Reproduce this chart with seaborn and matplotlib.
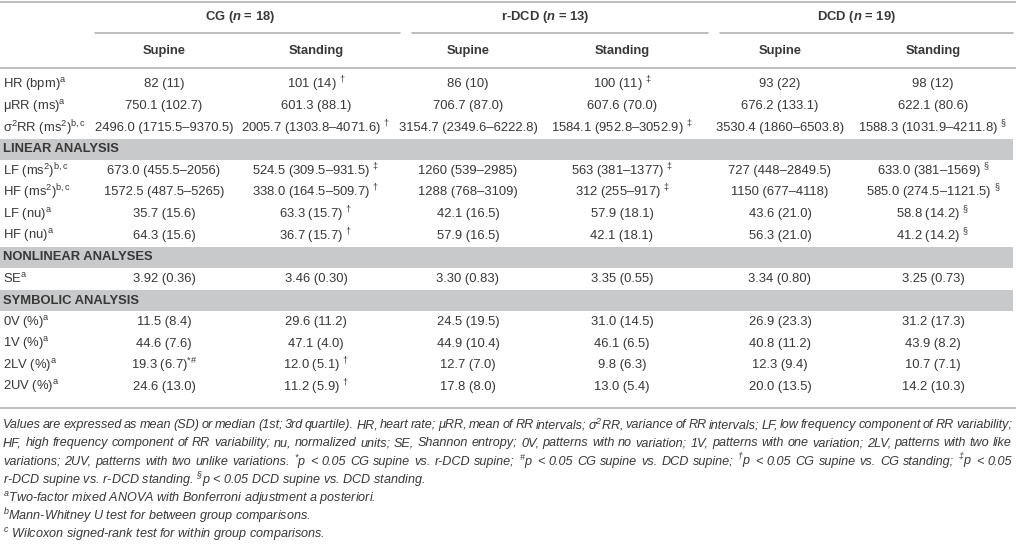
import matplotlib
matplotlib.use("Agg")
import matplotlib.pyplot as plt
import seaborn as sns

# table content
groups = ["CG", "r-DCD", "DCD"]
group_n = [18, 13, 19]
conditions = ["Supine", "Standing"]

row_labels = [
    "HR (bpm)$^{a}$",
    "μRR (ms)$^{a}$",
    "σ$^{2}$RR (ms$^{2}$)$^{b,c}$",
    "LINEAR ANALYSIS",
    "LF (ms$^{2}$)$^{b,c}$",
    "HF (ms$^{2}$)$^{b,c}$",
    "LF (nu)$^{a}$",
    "HF (nu)$^{a}$",
    "NONLINEAR ANALYSES",
    "SE$^{a}$",
    "SYMBOLIC ANALYSIS",
    "0V (%)$^{a}$",
    "1V (%)$^{a}$",
    "2LV (%)$^{a}$",
    "2UV (%)$^{a}$",
]
section_rows = ["LINEAR ANALYSIS", "NONLINEAR ANALYSES", "SYMBOLIC ANALYSIS"]

hr = ["82 (11)", "101 (14)", "86 (10)", "100 (11)", "93 (22)", "98 (12)"]
hr_sig = ["", "†", "", "‡", "", ""]
murr = ["750.1 (102.7)", "601.3 (88.1)", "706.7 (87.0)", "607.6 (70.0)", "676.2 (133.1)", "622.1 (80.6)"]
murr_sig = ["", "", "", "", "", ""]
s2rr = ["2496.0 (1715.5–9370.5)", "2005.7 (1303.8–4071.6)", "3154.7 (2349.6–6222.8)",
        "1584.1 (952.8–3052.9)", "3530.4 (1860–6503.8)", "1588.3 (1031.9–4211.8)"]
s2rr_sig = ["", "†", "", "‡", "", "§"]
lf_ms = ["673.0 (455.5–2056)", "524.5 (309.5–931.5)", "1260 (539–2985)",
         "563 (381–1377)", "727 (448–2849.5)", "633.0 (381–1569)"]
lf_ms_sig = ["", "‡", "", "‡", "", "§"]
hf_ms = ["1572.5 (487.5–5265)", "338.0 (164.5–509.7)", "1288 (768–3109)",
         "312 (255–917)", "1150 (677–4118)", "585.0 (274.5–1121.5)"]
hf_ms_sig = ["", "†", "", "‡", "", "§"]
lf_nu = ["35.7 (15.6)", "63.3 (15.7)", "42.1 (16.5)", "57.9 (18.1)", "43.6 (21.0)", "58.8 (14.2)"]
lf_nu_sig = ["", "†", "", "", "", "§"]
hf_nu = ["64.3 (15.6)", "36.7 (15.7)", "57.9 (16.5)", "42.1 (18.1)", "56.3 (21.0)", "41.2 (14.2)"]
hf_nu_sig = ["", "†", "", "", "", "§"]
se = ["3.92 (0.36)", "3.46 (0.30)", "3.30 (0.83)", "3.35 (0.55)", "3.34 (0.80)", "3.25 (0.73)"]
se_sig = ["", "", "", "", "", ""]
v0 = ["11.5 (8.4)", "29.6 (11.2)", "24.5 (19.5)", "31.0 (14.5)", "26.9 (23.3)", "31.2 (17.3)"]
v0_sig = ["", "", "", "", "", ""]
v1 = ["44.6 (7.6)", "47.1 (4.0)", "44.9 (10.4)", "46.1 (6.5)", "40.8 (11.2)", "43.9 (8.2)"]
v1_sig = ["", "", "", "", "", ""]
lv2 = ["19.3 (6.7)", "12.0 (5.1)", "12.7 (7.0)", "9.8 (6.3)", "12.3 (9.4)", "10.7 (7.1)"]
lv2_sig = ["*\\#", "†", "", "", "", ""]
uv2 = ["24.6 (13.0)", "11.2 (5.9)", "17.8 (8.0)", "13.0 (5.4)", "20.0 (13.5)", "14.2 (10.3)"]
uv2_sig = ["", "†", "", "", "", ""]

row_values = [(hr, hr_sig), (murr, murr_sig), (s2rr, s2rr_sig), None,
              (lf_ms, lf_ms_sig), (hf_ms, hf_ms_sig), (lf_nu, lf_nu_sig), (hf_nu, hf_nu_sig), None,
              (se, se_sig), None,
              (v0, v0_sig), (v1, v1_sig), (lv2, lv2_sig), (uv2, uv2_sig)]

notes_justified = [
    "Values are expressed as mean (SD) or median (1st; 3rd quartile). HR, heart rate; μRR, mean of RR intervals; "
    "σ$^{2}$RR, variance of RR intervals; LF, low frequency component of RR variability;",
    "HF, high frequency component of RR variability; nu, normalized units; SE, Shannon entropy; 0V, patterns with "
    "no variation; 1V, patterns with one variation; 2LV, patterns with two like",
    "variations; 2UV, patterns with two unlike variations. $^{*}$p < 0.05 CG supine vs. r-DCD supine; "
    "$^{\\#}$p < 0.05 CG supine vs. DCD supine; $^{†}$p < 0.05 CG supine vs. CG standing; $^{‡}$p < 0.05",
]
notes_plain = [
    "r-DCD supine vs. r-DCD standing. $^{§}$p < 0.05 DCD supine vs. DCD standing.",
    "$^{a}$Two-factor mixed ANOVA with Bonferroni adjustment a posteriori.",
    "$^{b}$Mann-Whitney U test for between group comparisons.",
    "$^{c}$ Wilcoxon signed-rank test for within group comparisons.",
]

# style
sns.set_theme(style="white")
plt.rcParams['font.family'] = ['Liberation Sans', 'DejaVu Sans']
plt.rcParams['mathtext.fontset'] = 'custom'
plt.rcParams['mathtext.rm'] = 'Liberation Sans'
plt.rcParams['mathtext.it'] = 'Liberation Sans:italic'
plt.rcParams['mathtext.bf'] = 'Liberation Sans:bold'
if 'mathtext.bfit' in plt.rcParams:
    plt.rcParams['mathtext.bfit'] = 'Liberation Sans:italic:bold'
plt.rcParams['mathtext.default'] = 'regular'

W, H = 1016, 544
txt = '#383838'
line_c = '#b3b3b3'
band_c = '#c8c9cb'
fs = 9.4
fs_note = 9.1

col_x = [164, 316, 468, 622, 780, 933]
group_lines = [(95, 400), (412, 708), (720, 1013)]

fig = plt.figure(figsize=(W / 100, H / 100), dpi=100)
ax = fig.add_axes([0, 0, 1, 1])
ax.set_xlim(0, W)
ax.set_ylim(H, 0)
ax.axis('off')

# header
ax.plot([0, W], [2, 2], color=line_c, lw=1.2)
for g, (name, n) in enumerate(zip(groups, group_n)):
    cx = (col_x[2 * g] + col_x[2 * g + 1]) / 2
    ax.text(cx, 17, name + " ($\\mathbfit{n}$ = " + str(n) + ")", ha='center', va='center',
            fontsize=fs, fontweight='bold', color=txt)
    x0, x1 = group_lines[g]
    ax.plot([x0, x1], [33, 33], color=line_c, lw=1.2)
    for c, cond in enumerate(conditions):
        ax.text(col_x[2 * g + c], 51, cond, ha='center', va='center',
                fontsize=fs, fontweight='bold', color=txt)
ax.plot([0, W], [68, 68], color=line_c, lw=1.2)

# body
y0, pitch = 84.5, 21.6
for i, label in enumerate(row_labels):
    y = y0 + i * pitch
    if label in section_rows:
        ax.axhspan(y - 10.5, y + 10.5, xmin=0, xmax=1013 / W, color=band_c, lw=0)
        ax.text(3, y, label, ha='left', va='center', fontsize=fs, fontweight='bold', color=txt)
        continue
    ax.text(3, y, label, ha='left', va='center', fontsize=fs, color=txt)
    vals, sig = row_values[i]
    for j in range(6):
        s = vals[j]
        if sig[j]:
            s = s + (" " if sig[j] != "*\\#" else "") + "$^{" + sig[j] + "}$"
        ax.text(col_x[j], y, s, ha='center', va='center', fontsize=fs, color=txt)

ax.plot([0, W], [408, 408], color=line_c, lw=1.2)

# footnotes
ny0, npitch = 425, 18.3
renderer = fig.canvas.get_renderer()
for k, line in enumerate(notes_justified):
    y = ny0 + k * npitch
    words = line.split(" ")
    ts = [ax.text(0, y, w, ha='left', va='center', fontsize=fs_note, style='italic', color=txt)
          for w in words]
    widths = [t.get_window_extent(renderer).width for t in ts]
    gap = (1012 - 3 - sum(widths)) / (len(ts) - 1)
    x = 3
    for t, w in zip(ts, widths):
        t.set_x(x)
        x += w + gap
for k, line in enumerate(notes_plain):
    y = ny0 + (k + 3) * npitch
    ax.text(3, y, line, ha='left', va='center', fontsize=fs_note, style='italic', color=txt)

fig.savefig("out.png", dpi=100)
